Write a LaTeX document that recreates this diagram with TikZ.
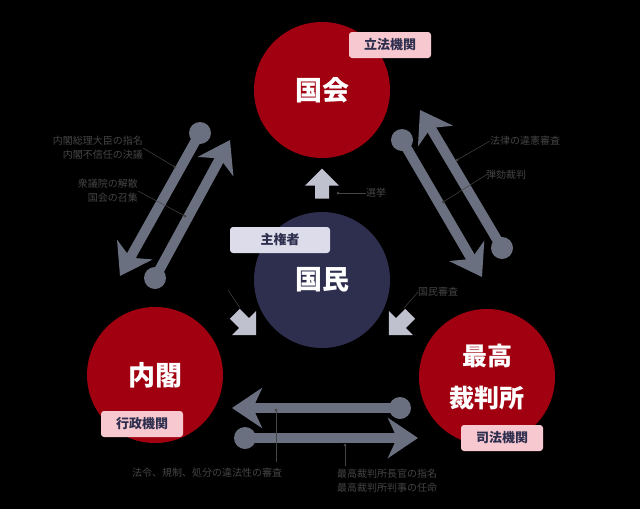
\documentclass[tikz,border=0pt]{standalone}
\usepackage{fontspec}
\setmainfont{Noto Sans CJK JP}
\usetikzlibrary{arrows.meta,shapes.arrows}
\definecolor{organred}{HTML}{A0000F}
\definecolor{peoplebl}{HTML}{2E2F4E}
\definecolor{arrowgr}{HTML}{6B7080}
\definecolor{labelgr}{HTML}{454545}
\definecolor{tagpink}{HTML}{F8C8D0}
\definecolor{taglav}{HTML}{DCDCEA}
\tikzset{
    organ/.style={circle,fill=organred,minimum size=136pt,inner sep=0pt,text=white,font=\bfseries\fontsize{27}{32}\selectfont,align=center},
    tag/.style={rounded corners=3pt,fill=tagpink,text=peoplebl,font=\bfseries\fontsize{13}{15}\selectfont,minimum width=82pt,minimum height=26pt},
    note/.style={text=labelgr,font=\fontsize{10}{14}\selectfont,align=right,inner sep=0pt},
    lead/.style={draw=labelgr,line width=0.5pt},
    dot/.style={circle,fill=arrowgr,minimum size=22pt,inner sep=0pt},
    power/.style={draw=arrowgr,line width=10pt,-{Stealth[width=40pt,length=30pt,inset=9pt]}},
    block/.style={single arrow,fill=taglav!75!arrowgr,minimum width=34pt,single arrow head extend=6pt,minimum height=30pt,inner sep=4pt}
}
\begin{document}
\begin{tikzpicture}[x=1pt,y=-1pt]
    \fill[black] (0,0) rectangle (640,509);
    \useasboundingbox (0,0) rectangle (640,509);
    % organs
    \node [organ] (diet) at (322,90) {国会};
    \node [organ,fill=peoplebl] (people) at (322,280) {国民};
    \node [organ] (cabinet) at (155,375) {内閣};
    \node [organ,font=\bfseries\fontsize{25}{42}\selectfont] (court) at (487,377) {最高\\裁判所};
    \node [tag] (dietTag) at (390,45) {立法機関};
    \node [tag,fill=taglav,minimum width=100pt] (peopleTag) at (280,240) {主権者};
    \node [tag] (cabinetTag) at (142,424) {行政機関};
    \node [tag] (courtTag) at (502,438) {司法機関};
    % diet <-> cabinet
    \node [dot] (dcStart) at (200,133) {};
    \coordinate (dcEnd) at (120,276);
    \node [dot] (cdStart) at (155,278) {};
    \coordinate (cdEnd) at (230,140);
    \draw [power] (dcStart.center) -- (dcEnd);
    \draw [power] (cdStart.center) -- (cdEnd);
    % diet <-> court
    \node [dot] (dkStart) at (402,140) {};
    \coordinate (dkEnd) at (482,277);
    \node [dot] (kdStart) at (502,248) {};
    \coordinate (kdEnd) at (420,110);
    \draw [power] (dkStart.center) -- (dkEnd);
    \draw [power] (kdStart.center) -- (kdEnd);
    % cabinet <-> court
    \node [dot] (kcStart) at (400,408) {};
    \coordinate (kcEnd) at (232,408);
    \node [dot] (ckStart) at (245,438) {};
    \coordinate (ckEnd) at (418,438);
    \draw [power] (kcStart.center) -- (kcEnd);
    \draw [power] (ckStart.center) -- (ckEnd);
    % people's arrows
    \node [block,rotate=90] (vote) at (322,187) {};
    \node [block,rotate=-45] (toCabinet) at (243,322) {};
    \node [block,rotate=-135] (toCourt) at (402,322) {};
    % notes
    \node [note,anchor=east] (nCab1) at (143,148) {内閣総理大臣の指名\\内閣不信任の決議};
    \node [note,anchor=east] (nCab2) at (138,191) {衆議院の解散\\国会の召集};
    \node [note,anchor=west] (nCourt1) at (490,141) {法律の違憲審査};
    \node [note,anchor=west] (nCourt2) at (486,175) {弾劾裁判};
    \node [note,anchor=west] (nVote) at (366,193) {選挙};
    \node [note,anchor=west] (nReview) at (418,292) {国民審査};
    \node [note] (nBottom1) at (207,473) {法令、規制、処分の違法性の審査};
    \node [note,align=left,anchor=west] (nBottom2) at (337,481) {最高裁判所長官の指名\\最高裁判所判事の任命};
    \draw [lead] (nCab1.east) -- (175,167);
    \draw [lead] (nCab2.east) -- (185,216);
    \draw [lead] (nCourt1.west) -- (457,160);
    \draw [lead] (nCourt2.west) -- (443,202);
    \draw [lead] (nVote.west) -- (338,193);
    \draw [lead] (nReview.west) -- (404,308);
    \draw [lead] (228,290) -- (240,308);
    \draw [lead] (276,410) -- (276,462);
    \draw [lead] (345,445) -- (345,466);
    \foreach \p in {(175,167),(185,216),(457,160),(443,202),(338,193),(276,410),(345,445)}
        \fill [labelgr] \p circle (1.5pt);
\end{tikzpicture}
\end{document}
